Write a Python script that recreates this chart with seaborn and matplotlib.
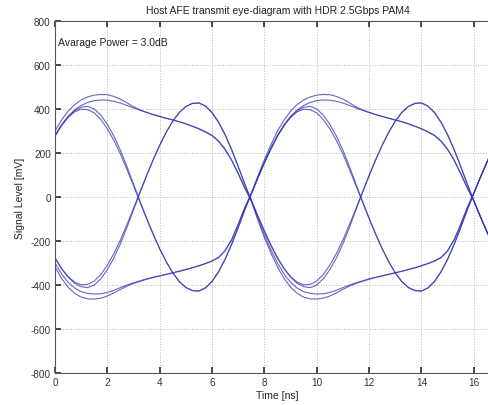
import matplotlib
matplotlib.use("Agg")
import matplotlib.pyplot as plt
import pandas as pd
import seaborn as sns

# One two-bit symbol window of the waveform, sampled every 0.25 ns from
# t = -1.0 ns to t = 7.25 ns relative to the window start [mV].
hi_lo = [17, 89, 158, 222, 279, 326, 362, 387, 399, 397, 382, 352, 310, 257,
         195, 125, 51, -24, -99, -170, -236, -295, -345, -384, -411, -425,
         -427, -412, -382, -338, -281, -213, -137, -57]
hi_lo_b = [14, 85, 153, 217, 275, 325, 364, 392, 408, 412, 400, 372, 330, 277,
           212, 138, 58, -20, -96, -168, -235, -294, -345, -385, -412, -426,
           -428, -414, -385, -341, -284, -216, -140, -60]
hi_hi = [16, 95, 170, 238, 300, 350, 390, 420, 441, 455, 463, 466, 465, 457,
         445, 428, 410, 396, 385, 375, 366, 358, 350, 342, 332, 321,
         309, 295, 278, 252, 215, 166, 105, 40]
hi_hi_b = [15, 88, 158, 222, 280, 328, 366, 396, 416, 430, 438, 441, 440, 435,
           427, 416, 405, 394, 384, 374, 366, 358, 350, 342, 333, 322,
           311, 297, 281, 255, 218, 168, 108, 42]
lo_hi = [-17, -89, -158, -222, -279, -326, -362, -387, -399, -397, -382, -352, -310, -257,
         -195, -125, -51, 24, 99, 170, 236, 295, 345, 384, 411, 425,
         427, 412, 382, 338, 281, 213, 137, 57]
lo_hi_b = [-14, -85, -153, -217, -275, -325, -364, -392, -408, -412, -400, -372, -330, -277,
           -212, -138, -58, 20, 96, 168, 235, 294, 345, 385, 412, 426,
           428, 414, 385, 341, 284, 216, 140, 60]
lo_lo = [-18, -105, -185, -255, -318, -370, -410, -438, -455, -463, -464, -460, -450, -436,
         -420, -405, -393, -383, -374, -366, -359, -352, -345, -338, -330, -322,
         -313, -303, -292, -276, -245, -195, -125, -50]
lo_lo_b = [-16, -96, -172, -240, -300, -350, -388, -414, -430, -438, -441, -440, -434, -424,
           -412, -400, -390, -381, -372, -365, -358, -351, -344, -337, -329, -321,
           -312, -302, -290, -274, -243, -193, -123, -48]

symbols = {
    "hi_lo": hi_lo, "hi_lo_b": hi_lo_b, "hi_hi": hi_hi, "hi_hi_b": hi_hi_b,
    "lo_hi": lo_hi, "lo_hi_b": lo_hi_b, "lo_lo": lo_lo, "lo_lo_b": lo_lo_b,
}

# Symbol sequence of every overlaid trace: first window, second window, next edge
trace_symbols = [
    ("hi_lo", "hi_lo", "hi_lo"),
    ("hi_lo_b", "hi_hi_b", "lo_hi"),
    ("hi_hi", "lo_hi", "lo_hi"),
    ("hi_hi_b", "lo_lo", "hi_lo"),
    ("lo_hi", "lo_hi_b", "lo_hi"),
    ("lo_hi_b", "lo_lo_b", "hi_lo"),
    ("lo_lo", "hi_lo_b", "hi_lo"),
    ("lo_lo_b", "hi_hi", "lo_hi"),
]

sample_step_ns = 0.25
x_ticks = [0, 2, 4, 6, 8, 10, 12, 14, 16]
y_ticks = [-800, -600, -400, -200, 0, 200, 400, 600, 800]

rows = []
for k, (first, second, edge) in enumerate(trace_symbols):
    levels = symbols[first][4:] + symbols[second] + symbols[edge][:5]
    for i, v in enumerate(levels):
        rows.append({"time": i * sample_step_ns, "level": v, "trace": k})
df = pd.DataFrame(rows)

sns.set_theme(style="white")
plt.rcParams["font.family"] = ["Liberation Sans", "DejaVu Sans"]
plt.rcParams["axes.unicode_minus"] = False

fig = plt.figure(figsize=(4.88, 4.06), dpi=100)
ax = fig.add_axes([55 / 488, 1 - 374 / 406, 445 / 488, 352 / 406])

sns.lineplot(data=df, x="time", y="level", units="trace", estimator=None,
             sort=False, color="#3434b0", linewidth=0.8, alpha=0.75,
             legend=False, ax=ax)

ax.set_xlim(0, 17)
ax.set_ylim(-800, 800)
ax.set_xticks(x_ticks)
ax.set_yticks(y_ticks)
ax.grid(True, linestyle=":", color="#b8b8b8", linewidth=0.7)
ax.tick_params(direction="in", length=4, top=True, right=False, bottom=True,
               left=True, labelsize=7.2, colors="#333333", pad=3)
for side in ("left", "bottom", "top"):
    ax.spines[side].set_color("#555555")
    ax.spines[side].set_linewidth(0.8)
ax.spines["right"].set_visible(False)

ax.set_xlabel("Time [ns]", fontsize=7.5, labelpad=2, color="#222222")
ax.set_ylabel("Signal Level [mV]", fontsize=7.5, labelpad=4, color="#222222")
ax.set_title("Host AFE transmit eye-diagram with HDR 2.5Gbps PAM4",
             fontsize=7.5, pad=6, color="#222222")
ax.text(0.12, 705, "Avarage Power = 3.0dB", fontsize=7.5, va="center",
        color="#222222")

fig.savefig("out.png", dpi=100)
